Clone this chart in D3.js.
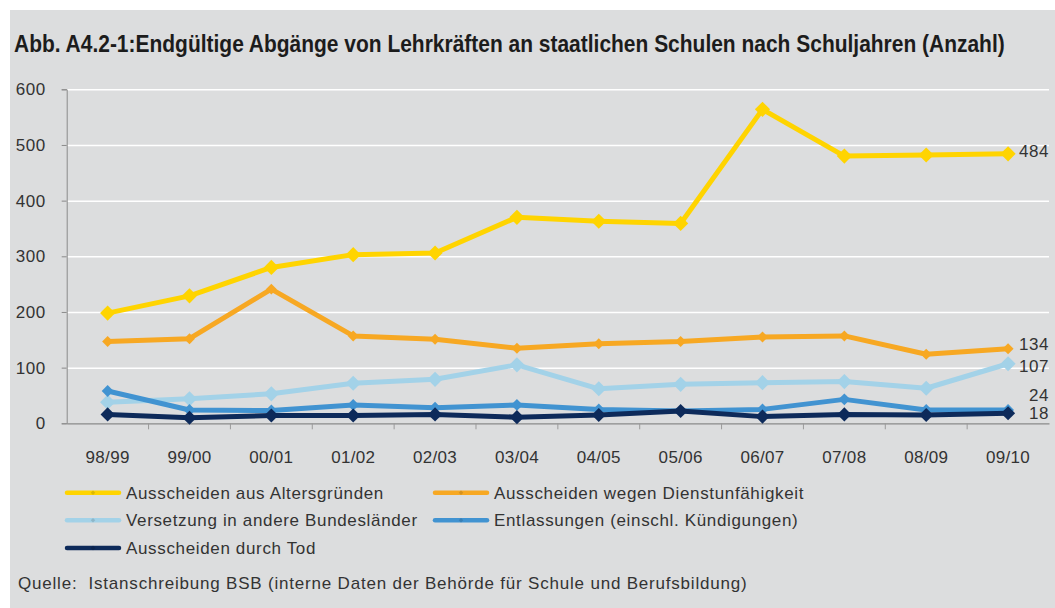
<!DOCTYPE html>
<html>
<head>
<meta charset="utf-8">
<script src="https://cdn.jsdelivr.net/npm/d3@7"></script>
<style>
  body { margin: 0; background: #fff; }
  svg { display: block; font-family: "Liberation Sans", Arial, sans-serif; }
</style>
</head>
<body>
<svg id="chart"></svg>
<script>
// school years (x axis)
var years = ["98/99", "99/00", "00/01", "01/02", "02/03", "03/04", "04/05", "05/06", "06/07", "07/08", "08/09", "09/10"];

// series values
var altersgruende = [198, 229, 280, 303, 306, 370, 363, 359, 564, 480, 482, 484];
var dienstunfaehigkeit = [147, 152, 241, 157, 151, 135, 143, 147, 155, 157, 124, 134];
var versetzung = [38, 44, 53, 72, 79, 105, 62, 70, 73, 75, 63, 107];
var entlassungen = [58, 24, 23, 33, 28, 33, 25, 22, 25, 43, 24, 24];
var tod = [16, 10, 14, 14, 16, 11, 15, 22, 12, 16, 15, 18];

var seriesNames = [
  "Ausscheiden aus Altersgründen",
  "Ausscheiden wegen Dienstunfähigkeit",
  "Versetzung in andere Bundesländer",
  "Entlassungen (einschl. Kündigungen)",
  "Ausscheiden durch Tod"
];
var yTicks = [0, 100, 200, 300, 400, 500, 600];

var title = "Abb. A4.2-1:Endgültige Abgänge von Lehrkräften an staatlichen Schulen nach Schuljahren (Anzahl)";
var source = "Quelle:  Istanschreibung BSB (interne Daten der Behörde für Schule und Berufsbildung)";

// styling per series
var colors = ["#ffd400", "#f7a823", "#a3d2e8", "#4193d1", "#0d2a5a"];
var markerSize = [115, 60, 115, 70, 100];
var labelNudge = [-3, -5, 2, -15, 0]; // end-label offsets, px

var allSeries = [altersgruende, dienstunfaehigkeit, versetzung, entlassungen, tod];

var svgWidth = 1055, svgHeight = 608;
var margin = {top: 89.3, right: 6, bottom: 184.7, left: 66.7};
var width = svgWidth - margin.left - margin.right;
var height = svgHeight - margin.top - margin.bottom;

var svg = d3.select("#chart")
  .attr("width", svgWidth)
  .attr("height", svgHeight);

svg.append("rect")
  .attr("x", 10).attr("y", 10)
  .attr("width", svgWidth - 10).attr("height", svgHeight - 10)
  .attr("fill", "#dcddde");

// condensed-looking bold title: squeeze horizontally if the font runs wide
var titleText = svg.append("text")
  .attr("font-family", "'Liberation Sans Narrow', 'Arial Narrow', 'Liberation Sans', Arial, sans-serif")
  .attr("font-weight", "bold")
  .attr("font-size", 23)
  .attr("fill", "#1c1c1c")
  .text(title);
var tw = titleText.node().getComputedTextLength();
var sx = Math.min(1, 991 / tw);
titleText.attr("transform", "translate(14,52) scale(" + sx + ",1)");

var g = svg.append("g")
  .attr("transform", "translate(" + margin.left + "," + margin.top + ")");

var x = d3.scaleBand().domain(years).range([0, width]);
var y = d3.scaleLinear().domain([0, 600]).range([height, 0]);

// white gridlines
g.append("g")
  .call(d3.axisLeft(y).tickValues(yTicks.slice(1)).tickSize(-width).tickFormat(""))
  .call(function (s) {
    s.select(".domain").remove();
    s.selectAll("line").attr("stroke", "#fff").attr("stroke-width", 1.5);
  });

// y axis
g.append("g")
  .call(d3.axisLeft(y).tickValues(yTicks).tickSize(5).tickPadding(16))
  .call(function (s) {
    s.select(".domain").attr("stroke", "#8a8a8a");
    s.selectAll(".tick line").attr("stroke", "#8a8a8a");
    s.selectAll("text")
      .attr("font-family", "'Liberation Sans', Arial, sans-serif")
      .attr("font-size", 17)
      .attr("letter-spacing", 0.5)
      .attr("fill", "#333");
  });

// x axis: labels at band centres, ticks at band boundaries
g.append("g")
  .attr("transform", "translate(0," + height + ")")
  .call(d3.axisBottom(x).tickSize(0).tickPadding(28))
  .call(function (s) {
    s.select(".domain").attr("stroke", "#8a8a8a").attr("stroke-width", 1.2);
    s.selectAll("text")
      .attr("font-family", "'Liberation Sans', Arial, sans-serif")
      .attr("font-size", 17)
      .attr("letter-spacing", 0.3)
      .attr("fill", "#333");
  });

g.append("g")
  .selectAll("line")
  .data(years.slice(1))
  .join("line")
  .attr("x1", function (d) { return x(d); })
  .attr("x2", function (d) { return x(d); })
  .attr("y1", height)
  .attr("y2", height + 6)
  .attr("stroke", "#9a9a9a");

var line = d3.line()
  .x(function (d, i) { return x(years[i]) + x.bandwidth() / 2; })
  .y(function (d) { return y(d); });

allSeries.forEach(function (values, k) {
  var sg = g.append("g");
  sg.append("path")
    .datum(values)
    .attr("fill", "none")
    .attr("stroke", colors[k])
    .attr("stroke-width", 5)
    .attr("stroke-linejoin", "round")
    .attr("d", line);
  sg.selectAll("path.m")
    .data(values)
    .join("path")
    .attr("class", "m")
    .attr("d", d3.symbol(d3.symbolSquare, markerSize[k]))
    .attr("fill", colors[k])
    .attr("transform", function (d, i) {
      return "translate(" + (x(years[i]) + x.bandwidth() / 2) + "," + y(d) + ") rotate(45)";
    });
});

// end labels
g.append("g")
  .selectAll("text")
  .data(allSeries)
  .join("text")
  .attr("x", width)
  .attr("y", function (d, k) { return y(d[d.length - 1]) + labelNudge[k]; })
  .attr("dy", "0.35em")
  .attr("text-anchor", "end")
  .attr("font-size", 17)
  .attr("letter-spacing", 0.5)
  .attr("fill", "#333")
  .text(function (d) { return d[d.length - 1]; });

// legend
var legendCols = [67, 435];
var legendRows = [492.7, 520.3, 548];
var legend = svg.append("g")
  .selectAll("g")
  .data(seriesNames)
  .join("g")
  .attr("transform", function (d, i) {
    return "translate(" + legendCols[i % 2] + "," + legendRows[Math.floor(i / 2)] + ")";
  });
legend.append("line")
  .attr("x1", 0).attr("x2", 52)
  .attr("stroke", function (d, i) { return colors[i]; })
  .attr("stroke-width", 4.5)
  .attr("stroke-linecap", "round");
legend.append("path")
  .attr("d", d3.symbol(d3.symbolSquare, 10))
  .attr("transform", "translate(26,0) rotate(45)")
  .attr("fill", function (d, i) { return d3.color(colors[i]).darker(0.4); });
legend.append("text")
  .attr("x", 59)
  .attr("dy", "0.35em")
  .attr("font-size", 17)
  .attr("letter-spacing", 0.65)
  .attr("fill", "#333")
  .text(function (d) { return d; });

svg.append("text")
  .attr("x", 18).attr("y", 589)
  .attr("font-size", 17)
  .attr("letter-spacing", 0.8)
  .attr("fill", "#333")
  .attr("xml:space", "preserve")
  .style("white-space", "pre")
  .text(source);
</script>
</body>
</html>
